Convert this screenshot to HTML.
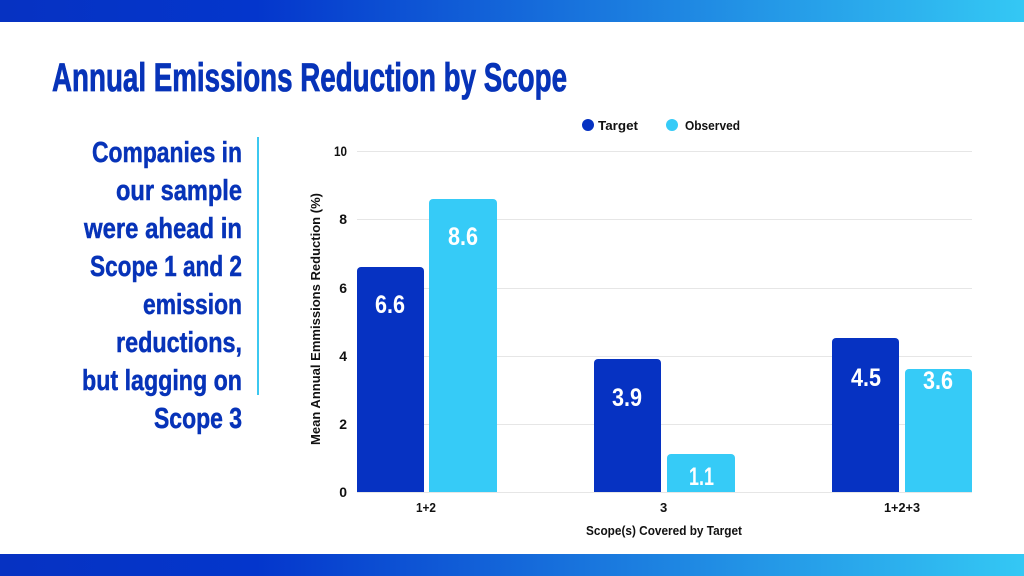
<!DOCTYPE html>
<html><head><meta charset="utf-8"><style>
html,body{margin:0;padding:0;background:#fff;}
svg{display:block;}
text{font-family:"Liberation Sans Narrow","Liberation Sans",sans-serif;font-weight:bold;}
</style></head><body>
<svg width="1024" height="576" viewBox="0 0 1024 576" xmlns="http://www.w3.org/2000/svg">
<defs>
<linearGradient id="g" x1="0" x2="1" y1="0" y2="0">
<stop offset="0" stop-color="#0632c2"/><stop offset="0.25" stop-color="#0436cc"/><stop offset="1" stop-color="#34c8f4"/>
</linearGradient>
</defs>
<rect x="0" y="0" width="1024" height="22" fill="url(#g)"/>
<rect x="0" y="554" width="1024" height="22" fill="url(#g)"/>
<text x="52" y="91" font-size="40" fill="#0733b8" textLength="515" lengthAdjust="spacingAndGlyphs" stroke="#0733b8" stroke-width="0.8">Annual Emissions Reduction by Scope</text>
<g font-size="29" fill="#0733b8" stroke="#0733b8" stroke-width="0.5">
<text x="92" y="162" textLength="150" lengthAdjust="spacingAndGlyphs">Companies in</text>
<text x="116" y="200" textLength="126" lengthAdjust="spacingAndGlyphs">our sample</text>
<text x="84" y="238" textLength="158" lengthAdjust="spacingAndGlyphs">were ahead in</text>
<text x="90" y="276" textLength="152" lengthAdjust="spacingAndGlyphs">Scope 1 and 2</text>
<text x="143" y="314" textLength="99" lengthAdjust="spacingAndGlyphs">emission</text>
<text x="116" y="352" textLength="126" lengthAdjust="spacingAndGlyphs">reductions,</text>
<text x="82" y="390" textLength="160" lengthAdjust="spacingAndGlyphs">but lagging on</text>
<text x="154" y="428" textLength="88" lengthAdjust="spacingAndGlyphs">Scope 3</text>
</g>
<rect x="257" y="137" width="2" height="258" fill="#3cc8f0"/>
<g stroke="#e6e6e6" stroke-width="1">
<line x1="357" x2="972" y1="151.5" y2="151.5"/>
<line x1="357" x2="972" y1="219.5" y2="219.5"/>
<line x1="357" x2="972" y1="288.5" y2="288.5"/>
<line x1="357" x2="972" y1="356.5" y2="356.5"/>
<line x1="357" x2="972" y1="424.5" y2="424.5"/>
<line x1="357" x2="972" y1="492.5" y2="492.5"/>
</g>
<g font-size="14" fill="#111" text-anchor="end">
<text x="347" y="156" textLength="13" lengthAdjust="spacingAndGlyphs">10</text><text x="347" y="224">8</text><text x="347" y="293">6</text>
<text x="347" y="361">4</text><text x="347" y="429">2</text><text x="347" y="497">0</text>
</g>
<text transform="translate(320,445) rotate(-90)" font-size="13" fill="#111" textLength="252" lengthAdjust="spacingAndGlyphs">Mean Annual Emmissions Reduction (%)</text>
<g fill="#0632c2">
<path d="M357 492V271a4 4 0 0 1 4-4h59a4 4 0 0 1 4 4V492z"/>
<path d="M594 492V363a4 4 0 0 1 4-4h59a4 4 0 0 1 4 4V492z"/>
<path d="M832 492V342a4 4 0 0 1 4-4h59a4 4 0 0 1 4 4V492z"/>
</g>
<g fill="#36cbf7">
<path d="M429 492V203a4 4 0 0 1 4-4h60a4 4 0 0 1 4 4V492z"/>
<path d="M667 492V458a4 4 0 0 1 4-4h60a4 4 0 0 1 4 4V492z"/>
<path d="M905 492V373a4 4 0 0 1 4-4h59a4 4 0 0 1 4 4V492z"/>
</g>
<g font-size="25" fill="#fff">
<text x="375" y="313" textLength="30" lengthAdjust="spacingAndGlyphs">6.6</text>
<text x="448" y="245" textLength="30" lengthAdjust="spacingAndGlyphs">8.6</text>
<text x="612" y="406" textLength="30" lengthAdjust="spacingAndGlyphs">3.9</text>
<text x="689" y="485" textLength="25" lengthAdjust="spacingAndGlyphs">1.1</text>
<text x="851" y="386" textLength="30" lengthAdjust="spacingAndGlyphs">4.5</text>
<text x="923" y="389" textLength="30" lengthAdjust="spacingAndGlyphs">3.6</text>
</g>
<g font-size="13" fill="#111">
<text x="416" y="512" textLength="20" lengthAdjust="spacingAndGlyphs">1+2</text>
<text x="660" y="512">3</text>
<text x="884" y="512" textLength="36" lengthAdjust="spacingAndGlyphs">1+2+3</text>
<text x="586" y="535" textLength="156" lengthAdjust="spacingAndGlyphs">Scope(s) Covered by Target</text>
</g>
<circle cx="588" cy="125" r="6" fill="#0632c2"/>
<text x="598" y="130" font-size="13" fill="#111" textLength="40" lengthAdjust="spacingAndGlyphs">Target</text>
<circle cx="672" cy="125" r="6" fill="#36cbf7"/>
<text x="685" y="130" font-size="13" fill="#111" textLength="55" lengthAdjust="spacingAndGlyphs">Observed</text>
</svg>
</body></html>
